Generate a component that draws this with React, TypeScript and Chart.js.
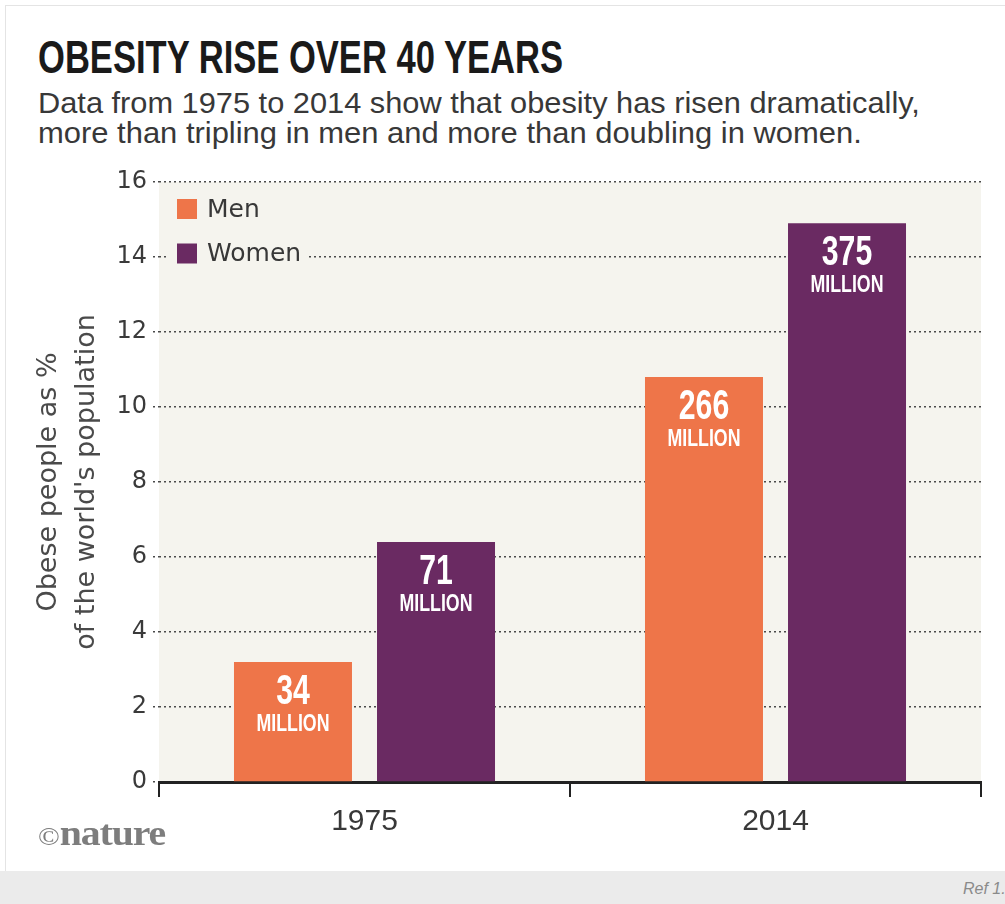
import React, { useEffect, useLayoutEffect, useRef } from 'react';
import { Chart, registerables } from 'chart.js';

Chart.register(...registerables);

// ---- data ----
const years = ['1975', '2014'];
const seriesNames = ['Men', 'Women'];
const menShare = [3.2, 10.8];
const womenShare = [6.4, 14.9];
const menMillions = ['34', '266'];
const womenMillions = ['71', '375'];
const unitLabel = 'MILLION';
const seriesColors = ['#ee7549', '#6a2a62'];
const yMin = 0;
const yMax = 16;
const yStep = 2;
const yTitle = ['Obese people as %', "of the world's population"];
const titleText = 'OBESITY RISE OVER 40 YEARS';
const subtitleLines = [
  'Data from 1975 to 2014 show that obesity has risen dramatically,',
  'more than tripling in men and more than doubling in women.',
];
const refText = 'Ref 1.';

const PLOT_BG = '#f5f4ee';

function FitText({ width, style, children }: { width: number; style?: React.CSSProperties; children: React.ReactNode }) {
  const ref = useRef<HTMLSpanElement>(null);
  useLayoutEffect(() => {
    const el = ref.current;
    if (!el) return;
    const fit = () => {
      const w = el.offsetWidth;
      if (w > 0) el.style.transform = `scaleX(${width / w})`;
    };
    fit();
    if ((document as any).fonts && (document as any).fonts.ready) {
      (document as any).fonts.ready.then(fit);
    }
  }, [width]);
  return (
    <span
      ref={ref}
      style={{ display: 'inline-block', whiteSpace: 'nowrap', transformOrigin: '0 0', ...style }}
    >
      {children}
    </span>
  );
}

function drawCondensed(ctx: CanvasRenderingContext2D, text: string, x: number, y: number, font: string, sx: number) {
  ctx.save();
  ctx.translate(x, y);
  ctx.scale(sx, 1);
  ctx.font = font;
  ctx.fillText(text, 0, 0);
  ctx.restore();
}

const plotBackground = {
  id: 'plotBackground',
  beforeDraw(chart: any) {
    const { ctx, chartArea: a } = chart;
    ctx.save();
    ctx.fillStyle = PLOT_BG;
    ctx.fillRect(a.left, a.top, a.right - a.left, a.bottom - a.top);
    ctx.restore();
  },
};

const insetLegend = {
  id: 'insetLegend',
  beforeDatasetsDraw(chart: any) {
    const { ctx, chartArea: a } = chart;
    ctx.save();
    ctx.font = '25px "DejaVu Sans"';
    ctx.textBaseline = 'middle';
    ctx.textAlign = 'left';
    chart.data.datasets.forEach((ds: any, i: number) => {
      const cy = a.top + 27 + i * 44.5;
      const textX = a.left + 48;
      const tw = ctx.measureText(ds.label).width;
      ctx.fillStyle = PLOT_BG;
      ctx.fillRect(a.left + 10, cy - 15, textX + tw + 6 - (a.left + 10), 30);
      ctx.fillStyle = ds.backgroundColor;
      ctx.fillRect(a.left + 18, cy - 10, 20, 20);
      ctx.fillStyle = '#383838';
      ctx.fillText(ds.label, textX, cy + 1);
    });
    ctx.restore();
  },
};

const barLabels = {
  id: 'barLabels',
  afterDatasetsDraw(chart: any) {
    const { ctx } = chart;
    const labelSets = [menMillions, womenMillions];
    ctx.save();
    ctx.fillStyle = '#ffffff';
    ctx.textAlign = 'center';
    ctx.textBaseline = 'alphabetic';
    chart.data.datasets.forEach((_ds: any, di: number) => {
      const meta = chart.getDatasetMeta(di);
      meta.data.forEach((bar: any, i: number) => {
        const { x, y } = bar.getProps(['x', 'y'], true);
        drawCondensed(ctx, labelSets[di][i], x, y + 42, 'bold 42px "Liberation Sans"', 0.72);
        drawCondensed(ctx, unitLabel, x, y + 69, 'bold 24px "Liberation Sans"', 0.74);
      });
    });
    ctx.restore();
  },
};

export default function App() {
  const canvasRef = useRef<HTMLCanvasElement>(null);

  useEffect(() => {
    const canvas = canvasRef.current;
    if (!canvas) return;
    const chart = new Chart(canvas, {
      type: 'bar',
      data: {
        labels: years,
        datasets: [
          {
            label: seriesNames[0],
            data: menShare,
            backgroundColor: seriesColors[0],
            borderWidth: 0,
            categoryPercentage: 0.696,
            barPercentage: 0.825,
          },
          {
            label: seriesNames[1],
            data: womenShare,
            backgroundColor: seriesColors[1],
            borderWidth: 0,
            categoryPercentage: 0.696,
            barPercentage: 0.825,
          },
        ],
      },
      options: {
        responsive: false,
        animation: false,
        devicePixelRatio: 1,
        layout: { padding: { top: 182, right: 24, left: 0, bottom: 0 } },
        plugins: {
          legend: { display: false },
          tooltip: { enabled: false },
        },
        scales: {
          x: {
            z: 1,
            grid: {
              drawOnChartArea: false,
              drawTicks: true,
              tickLength: 15,
              color: '#222',
              lineWidth: 2,
              offset: true,
            },
            border: { display: true, color: '#222', width: 3 },
            ticks: {
              color: '#383838',
              font: { family: 'Liberation Sans', size: 30 },
              padding: 7,
            },
            afterFit: (s: any) => {
              s.height = 88;
            },
          },
          y: {
            min: yMin,
            max: yMax,
            ticks: {
              stepSize: yStep,
              color: '#3a3a3a',
              font: { family: 'DejaVu Sans', size: 24 },
              padding: 6,
            },
            grid: {
              color: '#4a4a4a',
              lineWidth: 1.5,
              tickLength: 6,
              tickBorderDash: [2, 3],
              drawTicks: true,
            },
            border: { display: false, dash: [2, 3] },
            title: {
              display: true,
              text: yTitle,
              color: '#4a4a4a',
              font: { family: 'DejaVu Sans', size: 27, lineHeight: 1.41 },
              padding: { top: 30, bottom: 0 },
            },
            afterFit: (s: any) => {
              s.width = 159;
            },
          },
        },
      } as any,
      plugins: [plotBackground, insetLegend, barLabels],
    });
    return () => chart.destroy();
  }, []);

  return (
    <div
      style={{
        position: 'absolute',
        left: 0,
        top: 0,
        width: 1005,
        height: 904,
        background: '#ffffff',
        overflow: 'hidden',
        fontFamily: '"Liberation Sans", Arial, sans-serif',
      }}
    >
      <div
        style={{
          position: 'absolute',
          left: 5,
          top: 5,
          width: 1000,
          height: 866,
          borderTop: '1px solid #e4e4e4',
          borderLeft: '1px solid #e4e4e4',
          boxSizing: 'border-box',
        }}
      />
      <div style={{ position: 'absolute', left: 0, top: 871, width: 1005, height: 33, background: '#ebebeb' }} />
      <div
        style={{
          position: 'absolute',
          left: 963,
          top: 880,
          fontSize: 16,
          lineHeight: '18px',
          fontStyle: 'italic',
          color: '#8a8a8a',
          whiteSpace: 'nowrap',
        }}
      >
        {refText}
      </div>
      <div style={{ position: 'absolute', left: 38, top: 33, fontSize: 47, lineHeight: '47px', fontWeight: 'bold', color: '#1a1a1a' }}>
        <FitText width={525}>{titleText}</FitText>
      </div>
      {subtitleLines.map((line, i) => (
        <div
          key={i}
          style={{
            position: 'absolute',
            left: 38,
            top: 88 + i * 30,
            fontSize: 30,
            lineHeight: '30px',
            color: '#383838',
          }}
        >
          <FitText width={i === 0 ? 882 : 824}>{line}</FitText>
        </div>
      ))}
      <canvas ref={canvasRef} width={1005} height={870} style={{ position: 'absolute', left: 0, top: 0 }} />
      <div
        style={{
          position: 'absolute',
          left: 38,
          top: 815,
          fontFamily: '"Liberation Serif", serif',
          fontSize: 36,
          lineHeight: '36px',
          fontWeight: 'bold',
          color: '#7d7d7d',
        }}
      >
        <FitText width={127}>
          <span style={{ fontSize: 26, fontWeight: 'normal' }}>©</span>
          <span style={{ letterSpacing: -1 }}>nature</span>
        </FitText>
      </div>
    </div>
  );
}
